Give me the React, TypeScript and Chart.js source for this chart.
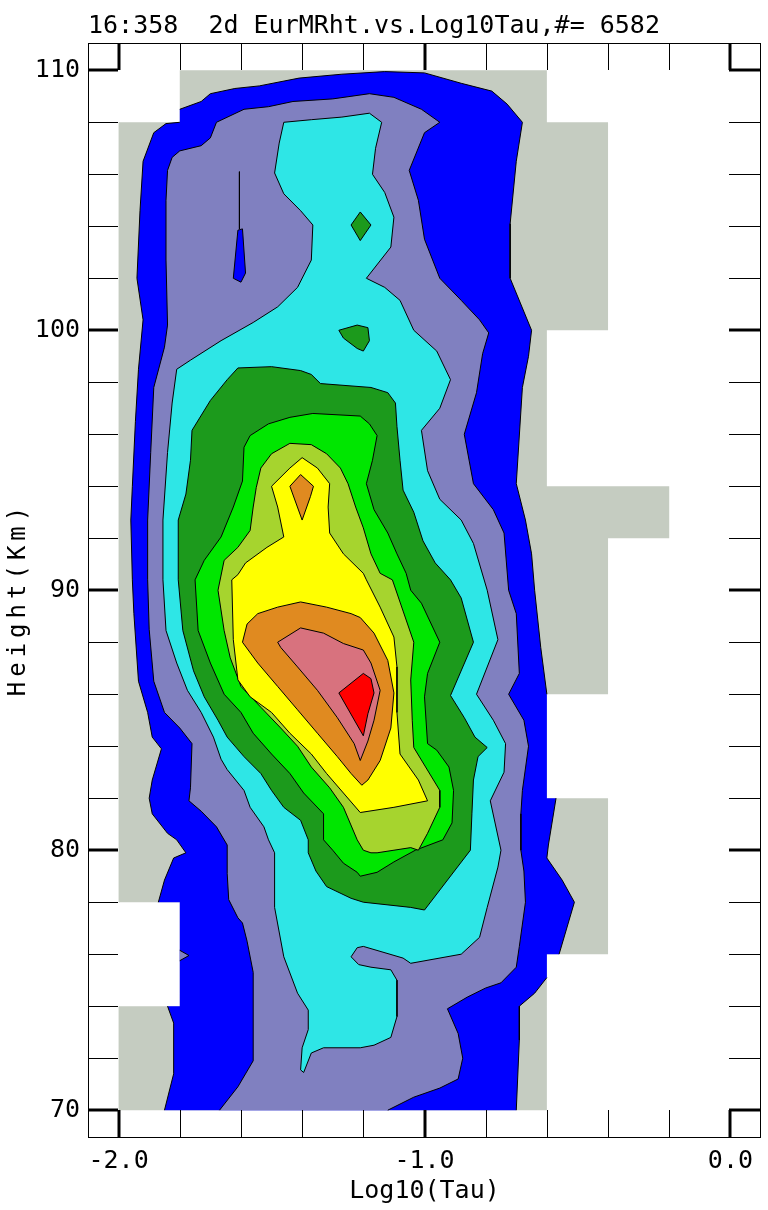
import React, { useEffect, useRef } from 'react';
import { Chart, registerables } from 'chart.js';

Chart.register(...registerables);

type Pt = [number, number];

// ---------- text ----------
const chartTitle = '16:358  2d EurMRht.vs.Log10Tau,#= 6582';
const xTitle = 'Log10(Tau)';
const yTitle = 'Height(Km)';

// ---------- axes ----------
const xRange: Pt = [-2.1, 0.1];
const yRange: Pt = [68.93, 111.05];
const xTicks = [-2.0, -1.8, -1.6, -1.4, -1.2, -1.0, -0.8, -0.6, -0.4, -0.2, 0.0];
const xLabeledTicks = [-2.0, -1.0, 0.0];
const yTicks = [70, 72, 74, 76, 78, 80, 82, 84, 86, 88, 90, 92, 94, 96, 98, 100, 102, 104, 106, 108, 110];
const yLabeledTicks = [70, 80, 90, 100, 110];

// edges of the data coverage (contour lines are not drawn along them)
const coverageEdgeX = [-1.8, -0.6];
const coverageEdgeY = [70, 74, 76, 78, 82];

// ---------- data coverage (cells holding data) ----------
const dataCoverage: Pt[] = [
  [-1.8, 110], [-0.6, 110], [-0.6, 108], [-0.4, 108], [-0.4, 100], [-0.6, 100], [-0.6, 94], [-0.2, 94],
  [-0.2, 92], [-0.4, 92], [-0.4, 86], [-0.6, 86], [-0.6, 82], [-0.4, 82], [-0.4, 76], [-0.6, 76],
  [-0.6, 70], [-2.0, 70], [-2.0, 74], [-1.8, 74], [-1.8, 78], [-2.0, 78], [-2.0, 108], [-1.8, 108],
];

// ---------- contour levels (outermost = 1) ----------
const level1: Pt[] = [
  [-1.8, 108.5], [-1.73, 108.8], [-1.70, 109.1], [-1.62, 109.3], [-1.54, 109.4], [-1.41, 109.7], [-1.27, 109.85],
  [-1.13, 109.95], [-1.00, 109.9], [-0.88, 109.5], [-0.78, 109.2], [-0.73, 108.7], [-0.68, 108.0], [-0.70, 106.5],
  [-0.72, 104.1], [-0.72, 102.0], [-0.65, 100.0], [-0.66, 99.0], [-0.68, 97.8], [-0.70, 94.1], [-0.67, 92.7],
  [-0.65, 91.4], [-0.64, 90.0], [-0.62, 87.8], [-0.6, 86.0], [-0.6, 82], [-0.57, 82], [-0.595, 80.2],
  [-0.60, 79.7], [-0.55, 78.85], [-0.51, 78.0], [-0.53, 77.2], [-0.56, 76], [-0.6, 76], [-0.6, 75.1],
  [-0.64, 74.5], [-0.69, 74.0], [-0.69, 72.7], [-0.70, 70], [-1.85, 70], [-1.82, 71.4], [-1.82, 73.35],
  [-1.84, 74], [-1.8, 74], [-1.8, 78], [-1.87, 78], [-1.85, 78.85], [-1.82, 79.7], [-1.78, 79.9],
  [-1.81, 80.4], [-1.84, 80.65], [-1.89, 81.4], [-1.90, 82.0], [-1.89, 82.7], [-1.86, 83.9], [-1.89, 84.35],
  [-1.905, 85.3], [-1.935, 86.5], [-1.95, 89.1], [-1.955, 90.4], [-1.96, 92.7], [-1.955, 94.0], [-1.945, 96.5],
  [-1.935, 98.5], [-1.92, 100.4], [-1.94, 102.0], [-1.93, 104.6], [-1.92, 106.5], [-1.885, 107.6],
  [-1.845, 107.95], [-1.8, 108.0],
];
const level1Island: Pt[] = [[-1.61, 103.85], [-1.595, 103.9], [-1.585, 102.2], [-1.60, 101.85], [-1.625, 102.0]];
const level1Streak: Pt[] = [[-1.605, 106.1], [-1.605, 103.9]];

const level2: Pt[] = [
  [-1.80, 106.9], [-1.73, 107.1], [-1.70, 107.4], [-1.68, 108.0], [-1.59, 108.5], [-1.51, 108.6], [-1.43, 108.8],
  [-1.30, 108.9], [-1.18, 109.1], [-1.10, 108.96], [-1.01, 108.5], [-0.95, 108.0], [-1.00, 107.6], [-1.05, 106.15],
  [-1.02, 105.0], [-1.00, 103.5], [-0.95, 102.0], [-0.88, 101.15], [-0.82, 100.4], [-0.79, 99.9], [-0.81, 99.1],
  [-0.83, 97.6], [-0.87, 96.0], [-0.84, 94.1], [-0.775, 93.1], [-0.74, 92.2], [-0.725, 90.0], [-0.70, 89.1],
  [-0.69, 86.8], [-0.725, 86.0], [-0.675, 85.0], [-0.66, 84.0], [-0.68, 82.3], [-0.685, 81.4], [-0.685, 80.0],
  [-0.675, 79.2], [-0.67, 78.0], [-0.69, 76.3], [-0.70, 75.5], [-0.75, 74.9], [-0.80, 74.7], [-0.86, 74.35],
  [-0.925, 73.9], [-0.89, 72.95], [-0.875, 72.0], [-0.89, 71.2], [-0.95, 70.85], [-1.035, 70.5], [-1.12, 70],
  [-1.67, 70], [-1.61, 70.9], [-1.56, 71.9], [-1.56, 75.3], [-1.58, 76.5], [-1.595, 77.2], [-1.61, 77.4],
  [-1.64, 78.1], [-1.645, 79.1], [-1.645, 80.2], [-1.68, 80.9], [-1.73, 81.5], [-1.77, 81.9], [-1.765, 82.4],
  [-1.76, 84.1], [-1.80, 84.7], [-1.85, 85.3], [-1.885, 86.5], [-1.90, 88.5], [-1.905, 90.4], [-1.905, 92.7],
  [-1.895, 95.3], [-1.885, 97.8], [-1.85, 99.35], [-1.84, 100.2], [-1.845, 102.7], [-1.845, 105.0],
  [-1.84, 106.15], [-1.825, 106.65],
];
const level2Notch: Pt[] = [[-1.8, 75.75], [-1.77, 75.95], [-1.8, 76.15]];

const level3: Pt[] = [
  [-1.46, 108.0], [-1.37, 108.1], [-1.27, 108.2], [-1.18, 108.35], [-1.14, 108.0], [-1.16, 107.0], [-1.17, 106.0],
  [-1.13, 105.3], [-1.10, 104.35], [-1.11, 103.2], [-1.19, 102.0], [-1.13, 101.65], [-1.08, 101.15], [-1.035, 100.0],
  [-0.96, 99.2], [-0.915, 98.1], [-0.95, 97.0], [-1.01, 96.15], [-0.99, 94.6], [-0.95, 93.5], [-0.88, 92.7],
  [-0.84, 91.8], [-0.795, 90.0], [-0.76, 88.1], [-0.83, 86.0], [-0.775, 85.0], [-0.735, 84.1], [-0.74, 83.0],
  [-0.785, 81.9], [-0.75, 80.0], [-0.76, 79.35], [-0.795, 77.8], [-0.82, 76.65], [-0.88, 76.0], [-1.045, 75.65],
  [-1.07, 75.85], [-1.20, 76.3], [-1.22, 76.25], [-1.24, 75.9], [-1.215, 75.6], [-1.175, 75.5], [-1.11, 75.4],
  [-1.09, 75.0], [-1.09, 73.6], [-1.11, 72.8], [-1.165, 72.5], [-1.21, 72.4], [-1.33, 72.4], [-1.37, 72.2],
  [-1.395, 71.45], [-1.405, 71.55], [-1.40, 72.4], [-1.38, 73.1], [-1.38, 73.85], [-1.415, 74.5], [-1.46, 75.9],
  [-1.49, 77.8], [-1.49, 79.9], [-1.51, 80.4], [-1.525, 80.9], [-1.57, 81.65], [-1.59, 82.3], [-1.645, 83.1],
  [-1.665, 83.5], [-1.69, 84.35], [-1.73, 85.3], [-1.775, 86.15], [-1.81, 87.2], [-1.845, 88.45], [-1.855, 90.4],
  [-1.855, 92.7], [-1.84, 95.3], [-1.825, 97.2], [-1.81, 98.5], [-1.765, 98.85], [-1.665, 99.6], [-1.56, 100.3],
  [-1.48, 100.9], [-1.415, 101.65], [-1.37, 102.7], [-1.365, 104.05], [-1.405, 104.6], [-1.46, 105.25],
  [-1.49, 106.05], [-1.475, 107.2],
];

const level4: Pt[] = [
  [-1.61, 98.55], [-1.50, 98.6], [-1.405, 98.45], [-1.37, 98.3], [-1.34, 97.95], [-1.175, 97.8], [-1.12, 97.6],
  [-1.095, 97.2], [-1.09, 96.3], [-1.08, 95.0], [-1.07, 93.85], [-1.035, 93.0], [-1.005, 91.9], [-0.965, 91.05],
  [-0.915, 90.4], [-0.88, 89.7], [-0.84, 88.0], [-0.915, 85.95], [-0.87, 85.1], [-0.835, 84.35], [-0.795, 83.95],
  [-0.825, 83.6], [-0.84, 82.7], [-0.845, 81.4], [-0.85, 80.0], [-1.00, 77.7], [-1.045, 77.8], [-1.20, 78.0],
  [-1.24, 78.15], [-1.32, 78.6], [-1.355, 79.2], [-1.38, 79.9], [-1.38, 80.4], [-1.405, 81.15], [-1.46, 81.65],
  [-1.50, 82.3], [-1.535, 82.95], [-1.59, 83.6], [-1.645, 84.35], [-1.675, 85.0], [-1.72, 85.9], [-1.755, 86.9],
  [-1.79, 88.45], [-1.805, 90.4], [-1.805, 92.7], [-1.78, 93.7], [-1.765, 95.0], [-1.76, 96.15], [-1.70, 97.3],
  [-1.645, 98.1],
];
const level4Diamond: Pt[] = [[-1.24, 104.05], [-1.21, 104.55], [-1.175, 104.05], [-1.21, 103.45]];
const level4Blob: Pt[] = [[-1.28, 100.0], [-1.22, 100.2], [-1.185, 100.1], [-1.18, 99.6], [-1.20, 99.2], [-1.22, 99.3], [-1.265, 99.7]];

const level5: Pt[] = [
  [-1.51, 96.4], [-1.44, 96.65], [-1.365, 96.8], [-1.21, 96.7], [-1.18, 96.4], [-1.155, 95.95], [-1.17, 95.0],
  [-1.19, 94.1], [-1.165, 93.1], [-1.12, 92.2], [-1.09, 91.4], [-1.06, 90.65], [-1.045, 90.0], [-1.01, 89.5],
  [-0.95, 88.0], [-0.99, 86.8], [-1.00, 85.9], [-0.99, 84.1], [-0.96, 83.85], [-0.92, 83.2], [-0.905, 82.3],
  [-0.91, 81.05], [-0.94, 80.4], [-1.03, 80.0], [-1.10, 79.55], [-1.155, 79.15], [-1.21, 79.0], [-1.22, 79.15],
  [-1.265, 79.5], [-1.30, 80.0], [-1.33, 80.4], [-1.33, 81.4], [-1.395, 82.2], [-1.44, 82.95], [-1.50, 83.7],
  [-1.56, 84.5], [-1.60, 85.3], [-1.655, 86.0], [-1.70, 87.2], [-1.74, 88.45], [-1.75, 90.4], [-1.72, 91.15],
  [-1.665, 92.05], [-1.625, 93.2], [-1.595, 94.2], [-1.59, 95.5], [-1.57, 95.95],
];

const level6: Pt[] = [
  [-1.50, 95.25], [-1.44, 95.65], [-1.37, 95.6], [-1.32, 95.25], [-1.275, 94.7], [-1.25, 94.1], [-1.225, 93.2],
  [-1.20, 92.4], [-1.175, 91.4], [-1.145, 90.65], [-1.105, 90.4], [-1.07, 89.2], [-1.035, 88.0], [-1.045, 86.55],
  [-1.04, 85.0], [-1.035, 83.95], [-0.95, 82.3], [-0.95, 81.65], [-0.99, 80.65], [-1.02, 80.0], [-1.045, 80.1],
  [-1.155, 79.9], [-1.175, 79.9], [-1.20, 80.0], [-1.22, 80.4], [-1.265, 81.65], [-1.31, 82.4], [-1.37, 83.2],
  [-1.415, 84.0], [-1.47, 84.7], [-1.535, 85.5], [-1.60, 86.3], [-1.635, 87.4], [-1.655, 88.45], [-1.675, 90.0],
  [-1.655, 91.15], [-1.61, 91.65], [-1.57, 92.3], [-1.56, 93.2], [-1.55, 93.95], [-1.535, 94.7],
];

const level7: Pt[] = [
  [-1.50, 94.0], [-1.44, 94.7], [-1.40, 95.1], [-1.35, 94.7], [-1.31, 94.1], [-1.315, 93.2], [-1.31, 92.2],
  [-1.265, 91.4], [-1.20, 90.65], [-1.19, 90.4], [-1.145, 89.35], [-1.10, 88.2], [-1.09, 87.05], [-1.09, 85.3],
  [-1.08, 83.7], [-1.02, 82.7], [-0.99, 81.9], [-1.10, 81.65], [-1.21, 81.45], [-1.265, 82.2], [-1.32, 82.95],
  [-1.37, 83.7], [-1.44, 84.5], [-1.50, 85.3], [-1.57, 85.9], [-1.61, 86.55], [-1.625, 88.1], [-1.63, 90.4],
  [-1.61, 90.6], [-1.585, 91.05], [-1.515, 91.65], [-1.46, 92.05], [-1.48, 93.2],
];

const level8: Pt[] = [
  [-1.58, 88.7], [-1.545, 89.1], [-1.48, 89.35], [-1.405, 89.55], [-1.32, 89.35], [-1.24, 89.1], [-1.21, 88.95],
  [-1.165, 88.35], [-1.12, 87.3], [-1.10, 86.05], [-1.11, 84.7], [-1.145, 83.45], [-1.185, 82.7], [-1.205, 82.5],
  [-1.24, 82.95], [-1.285, 83.6], [-1.35, 84.5], [-1.415, 85.4], [-1.48, 86.3], [-1.545, 87.2], [-1.595, 88.0],
];
const level8Island: Pt[] = [[-1.44, 94.0], [-1.405, 94.45], [-1.363, 94.0], [-1.373, 93.6], [-1.40, 92.7]];

const level9: Pt[] = [
  [-1.48, 88.0], [-1.405, 88.55], [-1.33, 88.35], [-1.265, 87.95], [-1.20, 87.7], [-1.175, 87.2], [-1.145, 86.15],
  [-1.165, 85.0], [-1.185, 84.2], [-1.21, 83.45], [-1.23, 84.1], [-1.285, 85.1], [-1.35, 86.15], [-1.415, 87.05],
  [-1.47, 87.8],
];

const level10: Pt[] = [[-1.28, 86.05], [-1.20, 86.8], [-1.175, 86.6], [-1.165, 86.05], [-1.185, 85.25], [-1.20, 84.4]];

// ---------- styles ----------
const palette = {
  coverage: '#c5ccc1',
  l1: '#0000ff',
  l2: '#8080c0',
  l3: '#2ee6e6',
  l4: '#1c9a1c',
  l5: '#00e600',
  l6: '#a6d42e',
  l7: '#ffff00',
  l8: '#e08a20',
  l9: '#d8727e',
  l10: '#ff0000',
};
const FONT = '"DejaVu Sans Mono", "Liberation Mono", monospace';

type Layer = { pts: Pt[]; color: string; edged: boolean; closed: boolean };
const layers: Layer[] = [
  { pts: dataCoverage, color: palette.coverage, edged: false, closed: true },
  { pts: level1, color: palette.l1, edged: true, closed: true },
  { pts: level2, color: palette.l2, edged: true, closed: true },
  { pts: level2Notch, color: palette.l2, edged: true, closed: true },
  { pts: level1Island, color: palette.l1, edged: true, closed: true },
  { pts: level1Streak, color: palette.l1, edged: true, closed: false },
  { pts: level3, color: palette.l3, edged: true, closed: true },
  { pts: level4, color: palette.l4, edged: true, closed: true },
  { pts: level4Diamond, color: palette.l4, edged: true, closed: true },
  { pts: level4Blob, color: palette.l4, edged: true, closed: true },
  { pts: level5, color: palette.l5, edged: true, closed: true },
  { pts: level6, color: palette.l6, edged: true, closed: true },
  { pts: level7, color: palette.l7, edged: true, closed: true },
  { pts: level8Island, color: palette.l8, edged: true, closed: true },
  { pts: level8, color: palette.l8, edged: true, closed: true },
  { pts: level9, color: palette.l9, edged: true, closed: true },
  { pts: level10, color: palette.l10, edged: true, closed: true },
];

const isCoverageEdge = (c: any) => {
  const a = c.p0.parsed;
  const b = c.p1.parsed;
  return (a.x === b.x && coverageEdgeX.includes(a.x)) || (a.y === b.y && coverageEdgeY.includes(a.y));
};

const isMajor = (v: number, list: number[]) => list.some((m) => Math.abs(m - v) < 1e-9);

// fills each closed contour polygon (pixel positions come from Chart.js point elements)
const polygonFill = {
  id: 'polygonFill',
  beforeDatasetDraw(chart: any, args: any) {
    const ds = chart.data.datasets[args.index];
    if (!ds.closedShape) return;
    const pts = args.meta.data;
    if (!pts.length) return;
    const { ctx, chartArea: a } = chart;
    ctx.save();
    ctx.beginPath();
    ctx.rect(a.left, a.top, a.right - a.left, a.bottom - a.top);
    ctx.clip();
    ctx.beginPath();
    pts.forEach((p: any, i: number) => (i ? ctx.lineTo(p.x, p.y) : ctx.moveTo(p.x, p.y)));
    ctx.closePath();
    ctx.fillStyle = ds.areaColor;
    ctx.fill();
    ctx.restore();
  },
};

const frameAndText = {
  id: 'frameAndText',
  afterDraw(chart: any) {
    const { ctx, chartArea: a, scales } = chart;
    const x = scales.x;
    const y = scales.y;
    ctx.save();
    ctx.strokeStyle = '#000';
    ctx.lineWidth = 1;
    ctx.strokeRect(a.left + 0.5, a.top + 0.5, a.right - a.left - 1, a.bottom - a.top - 1);
    const seg = (x1: number, y1: number, x2: number, y2: number, w: number) => {
      ctx.lineWidth = w;
      ctx.beginPath();
      ctx.moveTo(x1, y1);
      ctx.lineTo(x2, y2);
      ctx.stroke();
    };
    xTicks.forEach((v) => {
      const major = isMajor(v, xLabeledTicks);
      const px = Math.round(x.getPixelForValue(v)) + (major ? 0 : 0.5);
      const w = major ? 3 : 1;
      seg(px, a.top, px, a.top + 27, w);
      seg(px, a.bottom, px, a.bottom - 28, w);
    });
    yTicks.forEach((v) => {
      const major = isMajor(v, yLabeledTicks);
      const py = Math.round(y.getPixelForValue(v)) + (major ? 0 : 0.5);
      const w = major ? 3 : 1;
      seg(a.left, py, a.left + 30, py, w);
      seg(a.right, py, a.right - 32, py, w);
    });
    ctx.fillStyle = '#000';
    ctx.font = `25px ${FONT}`;
    ctx.textAlign = 'left';
    ctx.textBaseline = 'alphabetic';
    ctx.fillText(chartTitle, 88, 33);
    ctx.translate(25, 599);
    ctx.rotate(-Math.PI / 2);
    ctx.font = `24px ${FONT}`;
    (ctx as any).letterSpacing = '5px';
    ctx.textAlign = 'center';
    ctx.fillText(yTitle, 0, 0);
    ctx.restore();
  },
};

export default function App() {
  const ref = useRef<HTMLCanvasElement>(null);

  useEffect(() => {
    document.body.style.margin = '0';
    if (!ref.current) return;
    const datasets = layers.map((l, i) => ({
      data: (l.closed ? [...l.pts, l.pts[0]] : l.pts).map(([px, py]) => ({ x: px, y: py })),
      showLine: true,
      fill: false,
      closedShape: l.closed,
      areaColor: l.color,
      backgroundColor: l.color,
      borderColor: l.edged ? '#000000' : 'rgba(0,0,0,0)',
      borderWidth: 1,
      pointRadius: 0,
      pointHoverRadius: 0,
      tension: 0,
      order: layers.length - i,
      segment: l.edged
        ? { borderColor: (c: any) => (isCoverageEdge(c) ? 'rgba(0,0,0,0)' : '#000000') }
        : undefined,
    }));

    const chart = new Chart(ref.current, {
      type: 'scatter',
      data: { datasets } as any,
      plugins: [polygonFill, frameAndText],
      options: {
        animation: false,
        responsive: false,
        devicePixelRatio: 1,
        events: [],
        layout: { padding: { top: 43, right: 7, left: 0, bottom: 0 } },
        plugins: {
          legend: { display: false },
          tooltip: { enabled: false },
          title: { display: false },
        },
        scales: {
          x: {
            type: 'linear',
            min: xRange[0],
            max: xRange[1],
            grid: { display: false, drawTicks: false },
            border: { display: false },
            afterBuildTicks: (s: any) => {
              s.ticks = xTicks.map((v) => ({ value: v }));
            },
            afterFit: (s: any) => {
              s.height = 72;
            },
            ticks: {
              autoSkip: false,
              maxRotation: 0,
              minRotation: 0,
              padding: 8,
              color: '#000',
              font: { family: FONT, size: 25 },
              callback: (v: any) => (isMajor(Number(v), xLabeledTicks) ? Math.abs(Number(v)) < 1e-9 ? '0.0' : Number(v).toFixed(1) : ''),
            },
            title: {
              display: true,
              text: xTitle,
              color: '#000',
              font: { family: FONT, size: 25 },
              padding: { top: 0, bottom: 4 },
            },
          },
          y: {
            type: 'linear',
            min: yRange[0],
            max: yRange[1],
            grid: { display: false, drawTicks: false },
            border: { display: false },
            afterBuildTicks: (s: any) => {
              s.ticks = yTicks.map((v) => ({ value: v }));
            },
            afterFit: (s: any) => {
              s.width = 88;
            },
            ticks: {
              autoSkip: false,
              padding: 8,
              color: '#000',
              font: { family: FONT, size: 25 },
              callback: (v: any) => (isMajor(Number(v), yLabeledTicks) ? String(v) : ''),
            },
          },
        },
      } as any,
    });
    return () => chart.destroy();
  }, []);

  return (
    <div style={{ width: 768, height: 1210, position: 'relative', background: '#fff' }}>
      <canvas ref={ref} width={768} height={1210} style={{ display: 'block' }} />
    </div>
  );
}
